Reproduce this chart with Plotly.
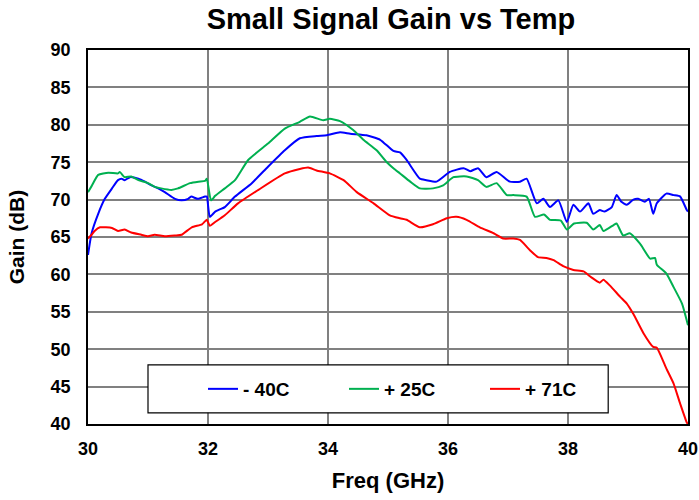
import plotly.graph_objects as go

# -40C
freq_m40 = [30.0, 30.06, 30.17, 30.28, 30.4, 30.5, 30.56, 30.61, 30.7, 30.84, 30.95, 31.06, 31.17, 31.28, 31.45,
            31.56, 31.67, 31.72, 31.83, 31.95, 31.98, 32.03, 32.12, 32.17, 32.28, 32.45, 32.73, 33.0, 33.28,
            33.53, 33.81, 33.98, 34.2, 34.37, 34.64, 34.87, 35.09, 35.2, 35.31, 35.53, 35.64, 35.81, 36.03,
            36.26, 36.37, 36.5, 36.64, 36.81, 37.03, 37.2, 37.31, 37.48, 37.59, 37.7, 37.84, 37.98, 38.09,
            38.2, 38.34, 38.42, 38.53, 38.61, 38.73, 38.81, 38.89, 38.98, 39.09, 39.17, 39.28, 39.35, 39.42,
            39.48, 39.64, 39.76, 39.87, 39.98, 40.0]
gain_m40 = [62.6, 65.5, 68.1, 70.1, 71.5, 72.6, 72.8, 72.6, 73.0, 72.8, 72.4, 71.9, 71.5, 71.0, 70.1,
            69.9, 70.1, 70.4, 70.1, 70.4, 70.4, 67.7, 68.4, 68.6, 69.0, 70.4, 72.2, 74.4, 76.6,
            78.2, 78.5, 78.6, 79.0, 78.8, 78.6, 78.0, 76.5, 76.3, 75.3, 72.8, 72.6, 72.4, 73.7,
            74.2, 73.8, 74.2, 73.0, 73.7, 72.4, 72.4, 72.8, 69.5, 70.1, 69.0, 69.9, 67.0, 69.3,
            68.4, 69.5, 68.1, 68.6, 68.4, 69.0, 70.6, 69.7, 69.3, 70.0, 70.1, 69.7, 70.1, 68.1,
            69.5, 70.8, 70.6, 70.4, 68.6, 68.4]

# +25C
freq_p25 = [30.0, 30.06, 30.17, 30.34, 30.5, 30.53, 30.61, 30.72, 30.84, 31.0, 31.11, 31.22, 31.39, 31.5,
            31.7, 31.84, 31.95, 31.98, 32.05, 32.12, 32.28, 32.45, 32.67, 33.0, 33.28, 33.53, 33.7, 33.92,
            34.03, 34.2, 34.42, 34.59, 34.81, 34.98, 35.09, 35.2, 35.37, 35.53, 35.75, 35.92, 36.09, 36.31,
            36.5, 36.64, 36.81, 36.98, 37.09, 37.31, 37.45, 37.6, 37.7, 37.88, 37.98, 38.1, 38.31, 38.42,
            38.53, 38.59, 38.76, 38.81, 38.92, 39.03, 39.2, 39.37, 39.45, 39.48, 39.64, 39.76, 39.9, 40.0]
gain_p25 = [71.0, 71.8, 73.3, 73.6, 73.5, 73.7, 73.0, 73.1, 72.6, 72.2, 71.7, 71.5, 71.3, 71.5,
            72.2, 72.4, 72.5, 72.8, 69.9, 70.5, 71.5, 72.6, 75.3, 77.5, 79.5, 80.4, 81.1, 80.6,
            80.8, 80.5, 79.3, 78.0, 76.6, 75.0, 74.2, 73.5, 72.4, 71.5, 71.5, 71.9, 73.0, 73.1,
            72.6, 71.7, 72.2, 70.6, 70.6, 70.4, 67.7, 68.0, 67.3, 67.2, 66.0, 66.8, 66.9, 66.0,
            66.6, 65.8, 66.6, 66.8, 65.2, 65.5, 64.1, 62.1, 62.2, 61.3, 60.1, 58.3, 56.1, 53.2]

# +71C
freq_p71 = [30.0, 30.06, 30.11, 30.2, 30.4, 30.5, 30.61, 30.72, 30.89, 31.0, 31.11, 31.28, 31.45, 31.56,
            31.73, 31.9, 31.98, 32.03, 32.12, 32.28, 32.5, 32.84, 33.28, 33.53, 33.67, 33.81, 34.03, 34.26,
            34.48, 34.76, 35.03, 35.2, 35.31, 35.53, 35.75, 35.98, 36.14, 36.31, 36.53, 36.76, 36.92, 37.09,
            37.2, 37.37, 37.5, 37.64, 37.76, 37.92, 38.09, 38.26, 38.39, 38.53, 38.59, 38.7, 38.87, 38.98,
            39.09, 39.26, 39.42, 39.48, 39.64, 39.76, 39.87, 39.98, 40.0]
gain_p71 = [64.8, 65.3, 65.8, 66.3, 66.2, 65.8, 66.0, 65.6, 65.3, 65.1, 65.3, 65.1, 65.2, 65.3,
            66.3, 66.7, 67.3, 66.5, 67.0, 67.9, 69.5, 71.3, 73.5, 74.1, 74.3, 73.9, 73.5, 72.6,
            71.0, 69.5, 67.9, 67.5, 67.3, 66.3, 66.7, 67.5, 67.7, 67.3, 66.3, 65.5, 64.8, 64.8,
            64.6, 63.2, 62.3, 62.2, 61.9, 61.1, 60.6, 60.4, 59.6, 58.9, 59.3, 58.5, 57.0, 56.1,
            54.7, 52.1, 50.3, 50.2, 47.4, 45.4, 42.7, 40.2, 40.0]

series_names = ["- 40C", "+ 25C", "+ 71C"]
x_ticks = [30, 32, 34, 36, 38, 40]
y_ticks = [40, 45, 50, 55, 60, 65, 70, 75, 80, 85, 90]

colors = ["#0000FF", "#00B050", "#FF0000"]
FONT = "Liberation Sans, Arial, sans-serif"

fig = go.Figure()
for name, xs, ys, c in zip(series_names, [freq_m40, freq_p25, freq_p71],
                           [gain_m40, gain_p25, gain_p71], colors):
    fig.add_trace(go.Scatter(x=xs, y=ys, mode="lines", name=f"<b>{name}</b>",
                             line=dict(color=c, width=2, shape="spline", smoothing=0.5)))

# legend box
fig.add_shape(type="rect", xref="paper", yref="paper",
              x0=0.1, x1=0.867, y0=0.03, y1=0.158,
              line=dict(color="black", width=1.2), fillcolor="white", layer="above")

fig.update_layout(
    width=699, height=500,
    margin=dict(l=88, r=11, t=50, b=76),
    paper_bgcolor="white", plot_bgcolor="white",
    font=dict(family=FONT, size=18, color="black"),
    title=dict(text="<b>Small Signal Gain vs Temp</b>", x=391 / 699, xref="container", xanchor="center",
               y=1 - 19 / 500, yref="container", yanchor="middle", font=dict(size=29, family=FONT),
               automargin=False),
    xaxis=dict(range=[30, 40], tickvals=x_ticks, ticktext=[f"<b>{v}</b>" for v in x_ticks],
               showgrid=True, gridcolor="#808080", gridwidth=1.5,
               showline=True, linecolor="black", linewidth=1.5, mirror=True,
               zeroline=False, ticks="outside", ticklen=8, tickcolor="rgba(0,0,0,0)",
               automargin=False, tickfont=dict(size=18),
               title=dict(text="<b>Freq (GHz)</b>", font=dict(size=22), standoff=14)),
    yaxis=dict(range=[40, 90], tickvals=y_ticks, ticktext=[f"<b>{v}</b>" for v in y_ticks],
               showgrid=True, gridcolor="#808080", gridwidth=1.5,
               showline=True, linecolor="black", linewidth=1.5, mirror=True,
               zeroline=False, ticks="outside", ticklen=12, tickcolor="rgba(0,0,0,0)",
               automargin=False, tickfont=dict(size=18),
               title=dict(text="<b>Gain (dB)</b>", font=dict(size=21), standoff=20)),
    showlegend=True,
    legend=dict(orientation="h", x=(203 - 88) / 600, xanchor="left", y=(424 - 389) / 374, yanchor="middle",
                bgcolor="rgba(0,0,0,0)", borderwidth=0,
                font=dict(size=19, family=FONT), entrywidth=96, entrywidthmode="pixels",
                itemwidth=30),
)

fig.write_html("out.html", config={"displayModeBar": False},
               post_script="document.body.style.margin='0';document.body.style.overflow='hidden';")
